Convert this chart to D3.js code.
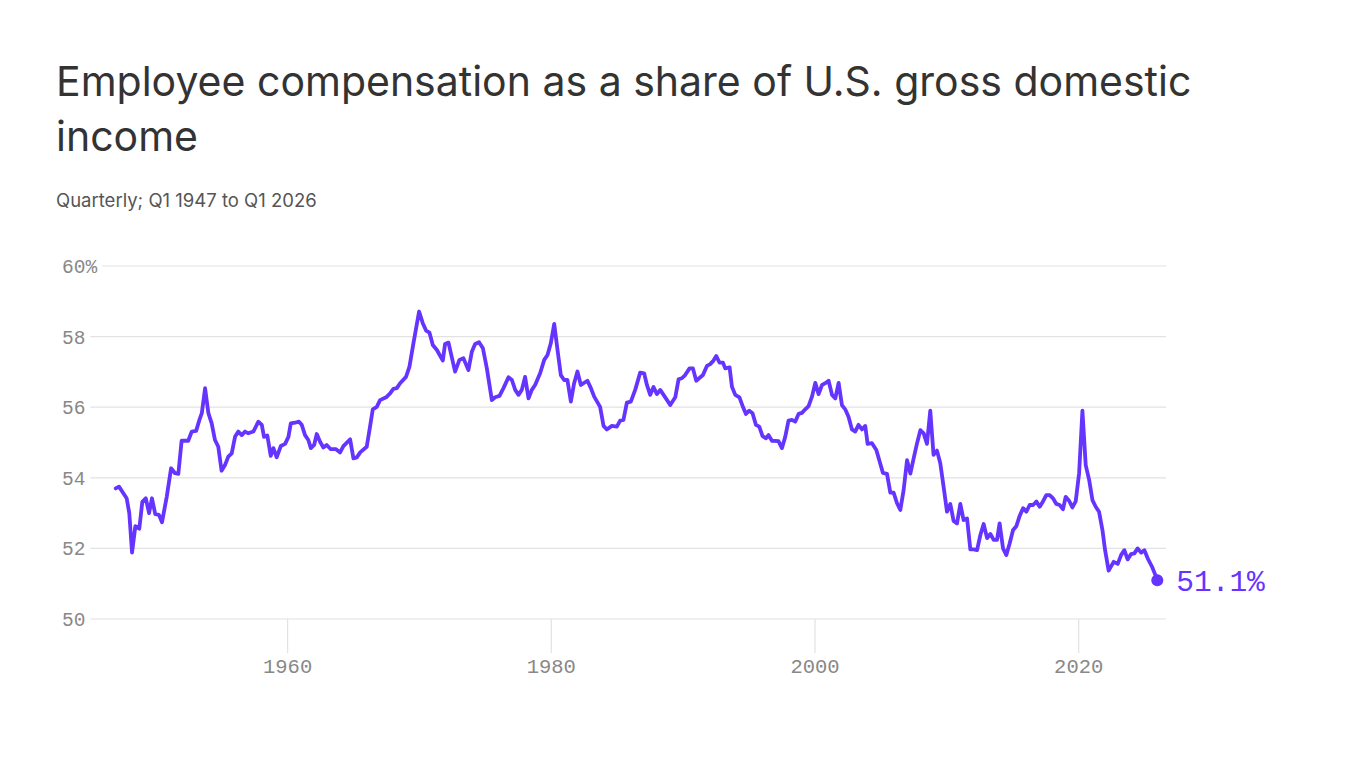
<!DOCTYPE html>
<html>
<head>
<meta charset="utf-8">
<script src="https://cdn.jsdelivr.net/npm/d3@7"></script>
<style>
  body { margin: 0; background: #fff; }
  svg { display: block; }
</style>
</head>
<body>
<svg></svg>
<script>
// Data (decimal year, share of GDI in %)
var years = [
  1947.00, 1947.25, 1947.58, 1947.83, 1948.03, 1948.24, 1948.49, 1948.79, 1949.02, 1949.28,
  1949.53, 1949.75, 1950.00, 1950.28, 1950.51, 1950.87, 1951.20, 1951.50, 1951.75, 1952.00,
  1952.50, 1952.77, 1953.10, 1953.35, 1953.53, 1953.78, 1954.03, 1954.28, 1954.53, 1954.78,
  1955.03, 1955.29, 1955.54, 1955.80, 1956.05, 1956.30, 1956.56, 1956.81, 1957.06, 1957.44,
  1957.82, 1958.08, 1958.25, 1958.50, 1958.76, 1958.96, 1959.21, 1959.52, 1959.85, 1960.10,
  1960.28, 1960.60, 1960.90, 1961.11, 1961.36, 1961.61, 1961.80, 1962.05, 1962.25, 1962.50,
  1962.75, 1963.00, 1963.31, 1963.71, 1964.02, 1964.27, 1964.78, 1965.03, 1965.29, 1965.54,
  1966.04, 1966.29, 1966.50, 1966.80, 1967.05, 1967.51, 1967.81, 1968.06, 1968.32, 1968.57,
  1969.02, 1969.28, 1969.58, 1970.01, 1970.29, 1970.54, 1970.80, 1971.05, 1971.36, 1971.81,
  1971.98, 1972.24, 1972.74, 1973.07, 1973.37, 1973.75, 1974.01, 1974.26, 1974.56, 1974.85,
  1975.15, 1975.53, 1975.78, 1976.11, 1976.41, 1976.79, 1977.05, 1977.30, 1977.55, 1977.80,
  1978.05, 1978.31, 1978.56, 1978.81, 1979.19, 1979.50, 1979.75, 1980.00, 1980.26, 1980.51,
  1980.76, 1981.01, 1981.26, 1981.52, 1981.77, 1982.02, 1982.28, 1982.78, 1983.04, 1983.29,
  1983.74, 1984.00, 1984.25, 1984.63, 1985.01, 1985.26, 1985.51, 1985.77, 1986.07, 1986.40,
  1986.78, 1987.08, 1987.29, 1987.54, 1987.79, 1988.05, 1988.30, 1988.68, 1989.06, 1989.44,
  1989.69, 1989.94, 1990.19, 1990.52, 1990.78, 1991.03, 1991.54, 1991.84, 1992.09, 1992.34,
  1992.55, 1992.80, 1993.06, 1993.23, 1993.56, 1993.74, 1993.99, 1994.31, 1994.57, 1994.80,
  1995.05, 1995.30, 1995.56, 1995.81, 1996.06, 1996.32, 1996.51, 1996.77, 1997.27, 1997.53,
  1997.78, 1998.03, 1998.29, 1998.54, 1998.79, 1999.05, 1999.30, 1999.55, 1999.81, 2000.06,
  2000.31, 2000.57, 2000.82, 2001.07, 2001.33, 2001.58, 2001.83, 2002.08, 2002.33, 2002.58,
  2002.84, 2003.09, 2003.34, 2003.60, 2003.85, 2004.03, 2004.36, 2004.69, 2004.94, 2005.19,
  2005.50, 2005.75, 2006.00, 2006.26, 2006.51, 2006.76, 2007.02, 2007.27, 2007.52, 2007.78,
  2008.03, 2008.28, 2008.53, 2008.78, 2009.03, 2009.29, 2009.54, 2009.79, 2010.05, 2010.30,
  2010.55, 2010.81, 2011.06, 2011.31, 2011.57, 2011.82, 2012.07, 2012.33, 2012.58, 2012.83,
  2013.09, 2013.34, 2013.59, 2013.84, 2014.04, 2014.30, 2014.55, 2014.80, 2015.06, 2015.31,
  2015.56, 2015.82, 2016.07, 2016.32, 2016.58, 2016.83, 2017.08, 2017.33, 2017.58, 2017.84,
  2018.09, 2018.34, 2018.59, 2018.85, 2019.05, 2019.31, 2019.56, 2019.81, 2020.07, 2020.32,
  2020.57, 2020.83, 2021.08, 2021.33, 2021.58, 2021.84, 2022.04, 2022.31, 2022.69, 2023.00,
  2023.25, 2023.50, 2023.75, 2024.01, 2024.26, 2024.51, 2024.77, 2025.02, 2025.27, 2025.60,
  2025.85, 2026.00
];
var shares = [
  53.70, 53.75, 53.56, 53.42, 53.00, 51.88, 52.63, 52.56, 53.32, 53.42,
  53.00, 53.42, 52.97, 52.95, 52.74, 53.46, 54.27, 54.13, 54.11, 55.05,
  55.05, 55.31, 55.33, 55.64, 55.83, 56.54, 55.83, 55.54, 55.07, 54.88,
  54.20, 54.36, 54.60, 54.69, 55.16, 55.31, 55.21, 55.31, 55.26, 55.31,
  55.59, 55.50, 55.16, 55.20, 54.62, 54.84, 54.58, 54.90, 54.96, 55.16,
  55.54, 55.56, 55.59, 55.50, 55.21, 55.07, 54.84, 54.93, 55.24, 55.02,
  54.86, 54.93, 54.81, 54.81, 54.72, 54.90, 55.09, 54.55, 54.58, 54.72,
  54.88, 55.45, 55.94, 56.01, 56.20, 56.28, 56.39, 56.52, 56.54, 56.68,
  56.86, 57.15, 57.81, 58.71, 58.38, 58.17, 58.11, 57.76, 57.62, 57.32,
  57.79, 57.83, 57.01, 57.34, 57.39, 57.05, 57.57, 57.79, 57.84, 57.67,
  57.10, 56.20, 56.28, 56.32, 56.54, 56.85, 56.77, 56.49, 56.35, 56.49,
  56.86, 56.25, 56.49, 56.63, 56.96, 57.34, 57.48, 57.81, 58.36, 57.62,
  56.91, 56.77, 56.77, 56.16, 56.68, 57.01, 56.63, 56.75, 56.54, 56.30,
  56.01, 55.47, 55.37, 55.47, 55.45, 55.62, 55.64, 56.13, 56.16, 56.49,
  56.98, 56.96, 56.63, 56.35, 56.57, 56.37, 56.49, 56.28, 56.06, 56.28,
  56.79, 56.82, 56.91, 57.10, 57.10, 56.75, 56.91, 57.17, 57.22, 57.32,
  57.45, 57.26, 57.26, 57.10, 57.13, 56.58, 56.35, 56.28, 56.01, 55.81,
  55.90, 55.83, 55.50, 55.45, 55.18, 55.12, 55.21, 55.05, 55.04, 54.84,
  55.16, 55.62, 55.64, 55.59, 55.81, 55.84, 55.94, 56.03, 56.30, 56.69,
  56.37, 56.63, 56.68, 56.75, 56.35, 56.25, 56.69, 56.06, 55.94, 55.73,
  55.37, 55.31, 55.50, 55.37, 55.47, 54.96, 54.98, 54.79, 54.46, 54.14,
  54.11, 53.58, 53.58, 53.28, 53.09, 53.65, 54.50, 54.12, 54.55, 54.98,
  55.35, 55.26, 54.96, 55.90, 54.65, 54.77, 54.41, 53.75, 53.04, 53.26,
  52.78, 52.71, 53.26, 52.80, 52.85, 51.97, 51.97, 51.95, 52.38, 52.69,
  52.29, 52.41, 52.24, 52.24, 52.71, 52.00, 51.81, 52.14, 52.52, 52.63,
  52.92, 53.14, 53.04, 53.23, 53.23, 53.33, 53.18, 53.33, 53.51, 53.51,
  53.42, 53.26, 53.23, 53.11, 53.46, 53.35, 53.16, 53.33, 54.13, 55.90,
  54.36, 53.94, 53.37, 53.18, 53.04, 52.52, 51.95, 51.37, 51.62, 51.56,
  51.81, 51.95, 51.69, 51.84, 51.86, 52.00, 51.88, 51.95, 51.72, 51.48,
  51.25, 51.10
];
var yTicks = [50, 52, 54, 56, 58, 60];
var xTicks = [1960, 1980, 2000, 2020];
var lastLabel = '51.1%';

var width = 1366;
var height = 768;
var purple = '#6534ff';
var mono = '"Liberation Mono", "DejaVu Sans Mono", monospace';

var data = years.map((yr, i) => ({ year: yr, value: shares[i] }));

var svg = d3.select('svg')
    .attr('width', width)
    .attr('height', height);

// Titles
var title = svg.append('text')
    .attr('x', 56)
    .attr('y', 96)
    .attr('font-family', 'Inter, "Noto Sans", sans-serif')
    .attr('font-size', 41)
    .attr('fill', '#333');
title.append('tspan').attr('x', 56).text('Employee compensation as a share of U.S. gross domestic');
title.append('tspan').attr('x', 56).attr('dy', 55).text('income');

svg.append('text')
    .attr('x', 56)
    .attr('y', 207)
    .attr('font-family', 'Inter, "Noto Sans", sans-serif')
    .attr('font-size', 18.5)
    .attr('fill', '#555')
    .text('Quarterly; Q1 1947 to Q1 2026');

// Scales
var x = d3.scaleLinear().domain([1947, 2026]).range([115.7, 1157.3]);
var y = d3.scaleLinear().domain([50, 60]).range([619, 266]);
var gridEnd = 1166;

// Y gridlines and labels
var yg = svg.append('g').selectAll('g').data(yTicks).enter().append('g');
yg.append('text')
    .attr('x', 62)
    .attr('y', d => y(d))
    .attr('dy', '0.36em')
    .attr('font-family', mono)
    .attr('font-size', 19.5)
    .attr('fill', '#888')
    .text(d => d === 60 ? d + '%' : d);
yg.each(function(d) {
    var g = d3.select(this);
    var w = g.select('text').node().getComputedTextLength();
    g.insert('line', 'text')
        .attr('x1', 62 + w + 5)
        .attr('x2', gridEnd)
        .attr('y1', y(d))
        .attr('y2', y(d))
        .attr('stroke', '#e2e2e2')
        .attr('stroke-width', 1.2);
});

// X axis
var xAxis = d3.axisBottom(x)
    .tickValues(xTicks)
    .tickFormat(d3.format('d'))
    .tickSize(34)
    .tickPadding(5);
var xg = svg.append('g')
    .attr('transform', `translate(0, ${y(50)})`)
    .call(xAxis);
xg.select('.domain').remove();
xg.selectAll('.tick line').attr('stroke', '#e2e2e2').attr('stroke-width', 1.2);
xg.selectAll('.tick text')
    .attr('font-family', mono)
    .attr('font-size', 20.5)
    .attr('fill', '#888');

// Line
var line = d3.line()
    .x(d => x(d.year))
    .y(d => y(d.value));

svg.append('path')
    .datum(data)
    .attr('fill', 'none')
    .attr('stroke', purple)
    .attr('stroke-width', 3.8)
    .attr('stroke-linejoin', 'round')
    .attr('stroke-linecap', 'round')
    .attr('d', line);

// End point and label
var last = data[data.length - 1];
svg.append('circle')
    .attr('cx', x(last.year))
    .attr('cy', y(last.value))
    .attr('r', 6)
    .attr('fill', purple);

svg.append('text')
    .attr('x', x(last.year) + 19)
    .attr('y', y(last.value))
    .attr('dy', '0.36em')
    .attr('font-family', mono)
    .attr('font-size', 29.5)
    .attr('fill', purple)
    .text(lastLabel);
</script>
</body>
</html>
